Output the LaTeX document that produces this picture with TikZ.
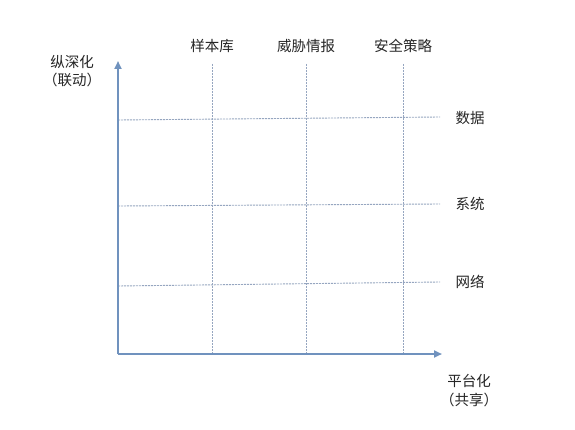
\documentclass[tikz,border=0pt]{standalone}
\usepackage{fontspec}
\setmainfont{Noto Sans CJK SC}
\usetikzlibrary{arrows.meta}
\definecolor{axisblue}{RGB}{112,146,190}
\definecolor{gridblue}{RGB}{150,166,192}
\begin{document}
\begin{tikzpicture}[x=1pt,y=-1pt,
  axis/.style={draw=axisblue,line width=2.4pt,-{Triangle[length=8pt,width=7pt]}},
  gridline/.style={draw=gridblue,line width=0.9pt,dash pattern=on 2pt off 1pt},
  lbl/.style={font=\fontsize{14.5}{16}\selectfont,text=black!85,inner sep=0pt}]
\useasboundingbox[fill=white] (0,0) rectangle (575,430);
\coordinate (o) at (118,354);
\coordinate (ytop) at (118,61);
\coordinate (xend) at (442,354);
% vertical grid lines
\coordinate (v1t) at (212,64); \coordinate (v1b) at (212,354);
\coordinate (v2t) at (306,64); \coordinate (v2b) at (306,354);
\coordinate (v3t) at (403,64); \coordinate (v3b) at (403,354);
\draw[gridline] (v1t) -- (v1b);
\draw[gridline] (v2t) -- (v2b);
\draw[gridline] (v3t) -- (v3b);
% horizontal grid lines
\coordinate (h1l) at (118,120); \coordinate (h1r) at (440,117);
\coordinate (h2l) at (118,206); \coordinate (h2r) at (440,204);
\coordinate (h3l) at (118,286); \coordinate (h3r) at (440,282);
\draw[gridline] (h1l) -- (h1r);
\draw[gridline] (h2l) -- (h2r);
\draw[gridline] (h3l) -- (h3r);
% axes
\draw[axis] (o) -- (ytop);
\draw[axis] (o) -- (xend);
% labels
\node[lbl] (yl1) at (72,62) {纵深化};
\node[lbl] (yl2) at (72,80) {（联动）};
\node[lbl] (c1) at (212,46) {样本库};
\node[lbl] (c2) at (306,46) {威胁情报};
\node[lbl] (c3) at (403,46) {安全策略};
\node[lbl] (r1) at (470,118) {数据};
\node[lbl] (r2) at (470,204) {系统};
\node[lbl] (r3) at (470,282) {网络};
\node[lbl] (xl1) at (469,381) {平台化};
\node[lbl] (xl2) at (469,400) {（共享）};
\end{tikzpicture}
\end{document}
